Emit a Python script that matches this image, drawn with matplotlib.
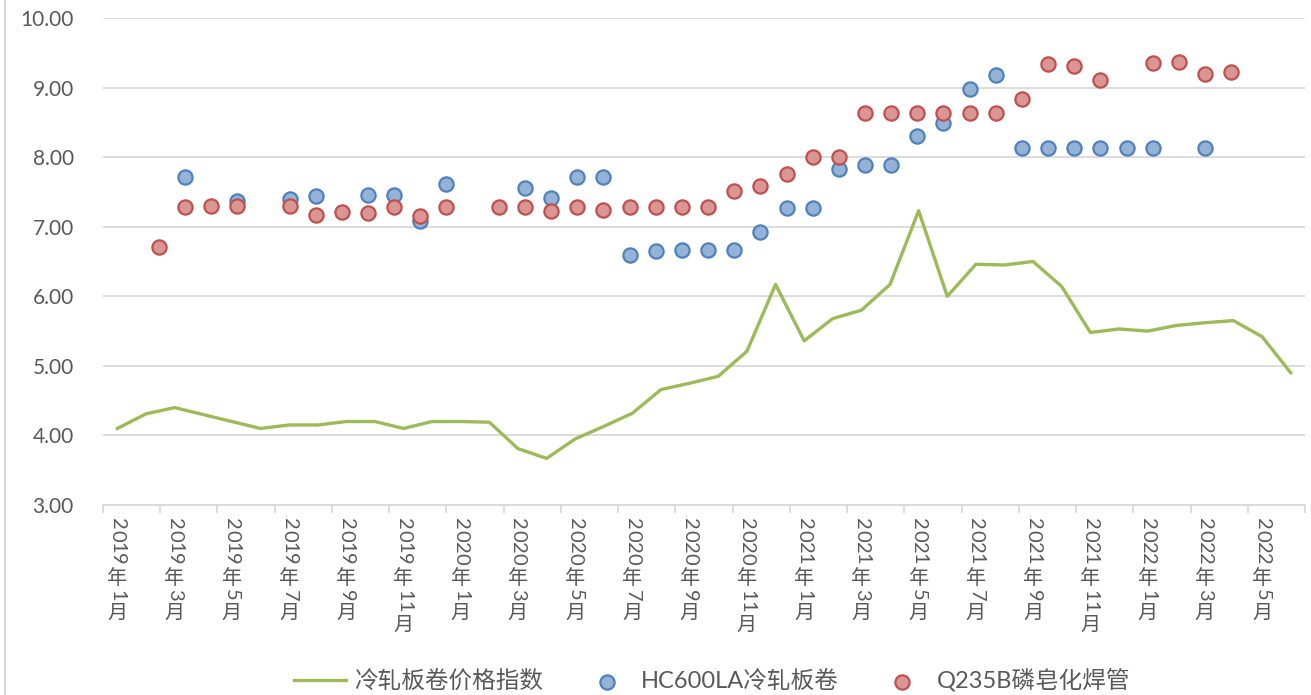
import matplotlib
matplotlib.use("Agg")
import matplotlib.pyplot as plt
from matplotlib.lines import Line2D
from matplotlib.transforms import offset_copy
import numpy as np

plt.rcParams["font.family"] = ["Lato", "Noto Sans CJK SC", "DejaVu Sans"]

nan = np.nan

# monthly categories 2019-01 .. 2022-06
years = [2019] * 12 + [2020] * 12 + [2021] * 12 + [2022] * 6
month_nums = list(range(1, 13)) * 3 + list(range(1, 7))
months = [f"{y}年{m}月" for y, m in zip(years, month_nums)]

# 冷轧板卷价格指数 (line, one value per month)
index_vals = [4.10, 4.31, 4.40, 4.30, 4.20, 4.10, 4.15, 4.15, 4.20, 4.20,
              4.10, 4.20, 4.20, 4.19, 3.81, 3.67, 3.95, 4.13, 4.32, 4.66,
              4.75, 4.85, 5.21, 6.17, 5.36, 5.68, 5.80, 6.17, 7.23, 6.00,
              6.46, 6.45, 6.50, 6.14, 5.48, 5.53, 5.50, 5.58, 5.62, 5.65,
              5.42, 4.90]

# scatter series (own x scale, one slot per observation)
hc600la = [nan, 7.72, nan, 7.37, nan, 7.40, 7.44, nan, 7.46, 7.46,
           7.08, 7.61, nan, nan, 7.55, 7.41, 7.72, 7.72, 6.59, 6.65,
           6.66, 6.66, 6.66, 6.93, 7.27, 7.27, 7.83, 7.88, 7.88, 8.31,
           8.49, 8.98, 9.18, 8.13, 8.13, 8.13, 8.13, 8.13, 8.13, nan,
           8.13, nan]
q235b = [6.71, 7.29, 7.30, 7.30, nan, 7.30, 7.17, 7.21, 7.19, 7.29,
         7.16, 7.28, nan, 7.29, 7.28, 7.23, 7.29, 7.24, 7.29, 7.29,
         7.29, 7.29, 7.52, 7.59, 7.76, 8.00, 8.00, 8.63, 8.64, 8.64,
         8.64, 8.64, 8.64, 8.83, 9.34, 9.31, 9.11, nan, 9.35, 9.37,
         9.19, 9.23]

TXT = "#595959"
GRID = "#D9D9D9"

fig = plt.figure(figsize=(13.11, 6.95), dpi=100)
ax = fig.add_axes([103 / 1311, 1 - 505 / 695, 1202 / 1311, 487 / 695])

x = np.arange(len(months))
line, = ax.plot(x, index_vals, color="#9BBB59", lw=2.4, zorder=3)

ax.set_xlim(-0.5, len(months) - 0.5)
ax.set_ylim(3, 10)
ax.set_yticks(np.arange(3, 10.01, 1))
ax.set_yticklabels([f"{v:.2f}" for v in np.arange(3, 10.01, 1)], fontsize=15, color=TXT)
ax.yaxis.grid(True, color=GRID, lw=1.3)
ax.set_axisbelow(True)
ax.tick_params(axis="y", length=0, pad=21)

# category boundaries every two months
ax.set_xticks(np.arange(-0.5, len(months), 2))
ax.set_xticklabels([])
ax.tick_params(axis="x", direction="out", length=6, width=1.3, color=GRID)
for s in ["left", "right", "top"]:
    ax.spines[s].set_visible(False)
ax.spines["bottom"].set_color(GRID)
ax.spines["bottom"].set_linewidth(1.3)

# stacked vertical labels: digits turned, CJK upright
fs = 14.5
trans = ax.get_xaxis_transform()
for i in range(0, len(months), 2):
    off = 9.5
    for ch in months[i]:
        if ch.isdigit():
            adv, rot = 0.58 * fs, -90
        else:
            adv, rot = 1.22 * fs, 0
        t = offset_copy(trans, fig=fig, x=0, y=-(off + adv / 2), units="points")
        ax.text(i, 0, ch, transform=t, rotation=rot, ha="center", va="center",
                fontsize=fs, color=TXT, family=["Lato", "Noto Sans CJK SC"])
        off += adv

ax2 = ax.twiny()
k = np.arange(len(q235b))
ax2.set_xlim(-2.13, 43.82)
ax2.set_axis_off()
sc_b = ax2.scatter(k, hc600la, s=105, color="#95B3D7", edgecolors="#4F81BD",
                   linewidths=1.6, zorder=3)
sc_r = ax2.scatter(k, q235b, s=105, color="#D99694", edgecolors="#C0504D",
                   linewidths=1.6, zorder=4)

fig.legend([line, sc_b, sc_r], ["冷轧板卷价格指数", "HC600LA冷轧板卷", "Q235B磷皂化焊管"],
           loc="center", bbox_to_anchor=(712 / 1311, 1 - 680 / 695), ncol=3,
           frameon=False, fontsize=17, labelcolor=TXT, handlelength=2.2,
           handletextpad=0.35, columnspacing=1.6, scatterpoints=1)

fig.add_artist(Line2D([0.004, 0.004], [0, 1], transform=fig.transFigure,
                      color=GRID, lw=1.5))

fig.savefig("out.png", dpi=100)
